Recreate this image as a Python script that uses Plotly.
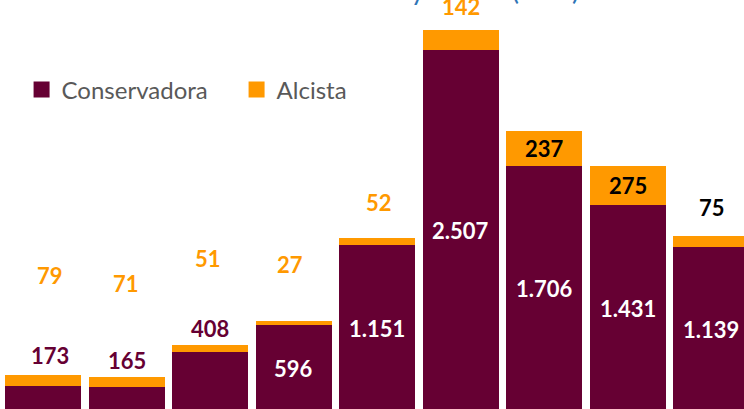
import plotly.graph_objects as go

# ---- data ----
categories = ["2015", "2016", "2017", "2018", "2019", "2020", "2021", "2022", "2023"]
conservadora = [173, 165, 408, 596, 1151, 2507, 1706, 1431, 1139]
alcista = [79, 71, 51, 27, 52, 142, 237, 275, 75]
series_names = ["Conservadora", "Alcista"]
title_text = "Conservadora y alcista (MW)"

# ---- style ----
MAROON = "#660033"
ORANGE = "#FF9900"
FONT = "Lato"

# label placement (style, not data)
cons_inside = [False, False, False, True, True, True, True, True, True]
cons_shift = [19, 17, 16, 0, 0, 0, 0, 0, 0]          # px above stack top when outside
cons_xshift = [7, 0, 0, 0, 0, 0, 0, 0, 0]
alc_inside = [False, False, False, False, False, False, True, True, False]
alc_shift = [99, 94, 86, 57, 35, 23, 0, 0, 29]       # px above stack top when outside
alc_xshift = [7, -1, -2, -4, 2, 0, 0, 0, 1]
alc_color = [ORANGE, ORANGE, ORANGE, ORANGE, ORANGE, ORANGE, "#000000", "#000000", "#000000"]


def fmt(v):
    return f"{v:,}".replace(",", ".")


fig = go.Figure()
fig.add_bar(x=categories, y=conservadora, marker=dict(color=MAROON, line=dict(width=0)),
            showlegend=False, name=series_names[0])
fig.add_bar(x=categories, y=alcista, marker=dict(color=ORANGE, line=dict(width=0)),
            showlegend=False, name=series_names[1])
# legend entries
fig.add_scatter(x=[None], y=[None], mode="markers", name=series_names[0],
                marker=dict(symbol="square", size=16, color=MAROON))
fig.add_scatter(x=[None], y=[None], mode="markers", name=series_names[1],
                marker=dict(symbol="square", size=16, color=ORANGE))

LBL = 22
annotations = []
for i, cat in enumerate(categories):
    c = conservadora[i]
    a = alcista[i]
    total = c + a
    if cons_inside[i]:
        annotations.append(dict(x=i, y=c / 2, xshift=cons_xshift[i], text=fmt(c), showarrow=False,
                                yanchor="middle",
                                font=dict(family=FONT, size=LBL, color="white", weight="bold")))
    else:
        annotations.append(dict(x=i, y=total, yshift=cons_shift[i], xshift=cons_xshift[i],
                                text=fmt(c), showarrow=False, yanchor="middle",
                                font=dict(family=FONT, size=LBL, color=MAROON, weight="bold")))
    if alc_inside[i]:
        annotations.append(dict(x=i, y=c + a / 2, xshift=alc_xshift[i], text=fmt(a), showarrow=False,
                                yanchor="middle",
                                font=dict(family=FONT, size=LBL, color=alc_color[i], weight="bold")))
    else:
        annotations.append(dict(x=i, y=total, yshift=alc_shift[i], xshift=alc_xshift[i],
                                text=fmt(a), showarrow=False, yanchor="middle",
                                font=dict(family=FONT, size=LBL, color=alc_color[i], weight="bold")))

annotations.append(dict(xref="paper", yref="paper", x=0.55, y=1 - 8 / 409, xanchor="center",
                        yanchor="bottom", text=title_text, showarrow=False,
                        font=dict(family=FONT, size=27, color="#2E75B6")))

fig.update_layout(
    width=744, height=409,
    margin=dict(l=0, r=0, t=0, b=0),
    paper_bgcolor="white", plot_bgcolor="white",
    barmode="stack", bargap=0.09,
    xaxis=dict(type="category", range=[-0.515, 8.395], showticklabels=False, showgrid=False,
               zeroline=False, showline=False, ticks=""),
    yaxis=dict(range=[14, 2856], visible=False, showgrid=False, zeroline=False),
    legend=dict(orientation="h", x=0.029, y=0.835, xanchor="left", yanchor="top",
                traceorder="normal",
                font=dict(family=FONT, size=24, color="#595959"), bgcolor="rgba(0,0,0,0)",
                itemsizing="trace", entrywidth=170),
    annotations=annotations,
    showlegend=True,
)

fig.write_html("out.html", config={"displayModeBar": False},
               post_script="document.body.style.margin='0px';")
